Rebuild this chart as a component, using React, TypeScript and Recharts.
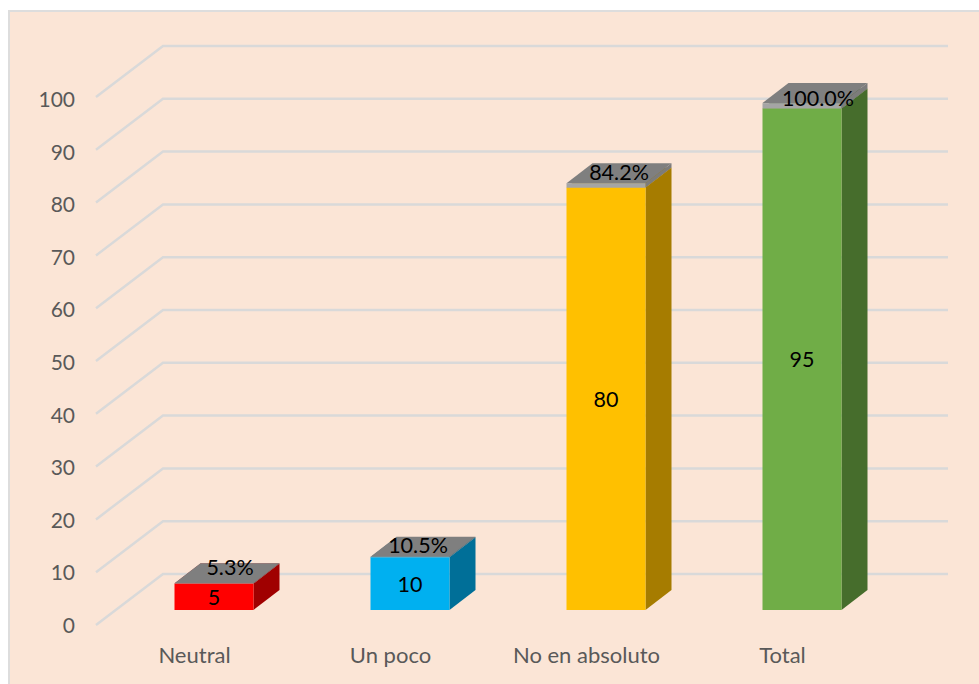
import { BarChart, Bar, XAxis, YAxis, CartesianGrid, LabelList } from 'recharts';

const categories = ['Neutral', 'Un poco', 'No en absoluto', 'Total'];
const counts = [5, 10, 80, 95];
const shares = [0.053, 0.105, 0.842, 1];
const yTicks = [0, 10, 20, 30, 40, 50, 60, 70, 80, 90, 100];

const data = categories.map((name, i) => ({ name, count: counts[i], share: shares[i] }));

const frontColors = ['#FF0000', '#00B0F0', '#FFC000', '#70AD47'];
const sideColors = ['#A00000', '#006F98', '#A67C00', '#466D2C'];

const FONT = 'Lato, sans-serif';
const DEPTH_X = 26;
const DEPTH_Y = 20;
const PLOT_BOTTOM = 610;
// how far the percent labels sit from the cap's front edge
const shareNudge = [[16, -16], [8, -12], [13, -11], [16, -5]];

const Box = ({ x, y, width, height, front, top, side }: any) => (
  <g>
    <polygon
      points={`${x},${y} ${x + DEPTH_X},${y - DEPTH_Y} ${x + width + DEPTH_X},${y - DEPTH_Y} ${x + width},${y}`}
      fill={top}
    />
    <polygon
      points={`${x + width},${y} ${x + width + DEPTH_X},${y - DEPTH_Y} ${x + width + DEPTH_X},${y + height - DEPTH_Y} ${x + width},${y + height}`}
      fill={side}
    />
    <rect x={x} y={y} width={width} height={height} fill={front} />
  </g>
);

const CountShape = (props: any) => (
  <Box {...props} front={frontColors[props.index]} side={sideColors[props.index]} top={sideColors[props.index]} />
);

const ShareShape = (props: any) => <Box {...props} front="#A5A5A5" top="#7F7F7F" side="#7C7C7C" />;

const CountLabel = ({ x, y, width, height, index }: any) => (
  <text x={x + width / 2} y={y + height / 2 + 8} textAnchor="middle" fontSize={21.5} fontFamily={FONT} fill="#000">
    {counts[index]}
  </text>
);

const ShareLabel = ({ x, y, width, index }: any) => (
  <text
    x={x + width / 2 + shareNudge[index][0]}
    y={y + shareNudge[index][1] + 8}
    textAnchor="middle"
    fontSize={21.5}
    fontFamily={FONT}
    fill="#000"
  >
    {(shares[index] * 100).toFixed(1)}%
  </text>
);

// gridline folds from the floor edge onto the back wall
const WallLine = ({ y1 }: any) => (
  <polyline
    points={`96,${y1 + 15} 163,${y1 - 36} 948,${y1 - 36}`}
    fill="none"
    stroke="#D9D9D9"
    strokeWidth={2.5}
  />
);

// the axis labels run on a slightly tighter scale than the bars
const ValueTick = ({ y, payload }: any) => (
  <text
    x={75}
    y={y + 23 + (PLOT_BOTTOM - y) * 0.004}
    textAnchor="end"
    fontSize={21}
    fontFamily={FONT}
    fill="#595959"
  >
    {payload.value}
  </text>
);

const CategoryTick = ({ x, y, payload }: any) => (
  <text x={x - 19} y={y + 45} textAnchor="middle" fontSize={22} fontFamily={FONT} fill="#595959">
    {payload.value}
  </text>
);

export default function App() {
  return (
    <div style={{ position: 'absolute', left: 0, top: 0, width: 979, height: 684, background: '#fff', overflow: 'hidden' }}>
      <div
        style={{
          position: 'absolute',
          left: 8,
          top: 10,
          width: 971,
          height: 674,
          boxSizing: 'border-box',
          background: '#FBE5D6',
          borderLeft: '2px solid #DDDDDD',
          borderTop: '2px solid #DDDDDD',
        }}
      />
      <div style={{ position: 'absolute', left: 0, top: 0 }}>
        <BarChart
          width={979}
          height={684}
          data={data}
          barSize={79}
          margin={{ top: 82, right: 79.5, bottom: 0, left: 0 }}
        >
          <CartesianGrid vertical={false} horizontal={(p: any) => <WallLine key={p.key} {...p} />} syncWithTicks />
          <YAxis
            width={115.5}
            domain={[0, 100]}
            ticks={yTicks}
            interval={0}
            axisLine={false}
            tickLine={false}
            tick={<ValueTick />}
          />
          <XAxis dataKey="name" height={74} axisLine={false} tickLine={false} interval={0} tick={<CategoryTick />} />
          <Bar dataKey="count" stackId="a" shape={<CountShape />} isAnimationActive={false}>
            <LabelList content={<CountLabel />} />
          </Bar>
          <Bar dataKey="share" stackId="a" shape={<ShareShape />} isAnimationActive={false}>
            <LabelList content={<ShareLabel />} />
          </Bar>
        </BarChart>
      </div>
    </div>
  );
}
